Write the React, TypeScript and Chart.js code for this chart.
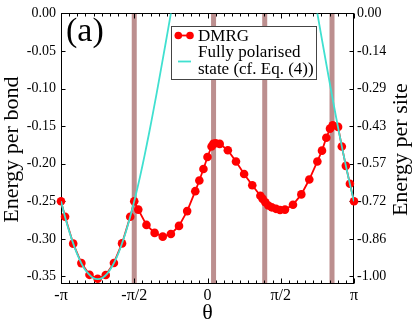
import React, { useEffect, useRef } from 'react';
import { Chart, registerables } from 'chart.js';

Chart.register(...registerables);

const PI = Math.PI;

// DMRG results: theta (rad) and energy per bond
const dmrgTheta = [
  -3.1416, -3.054, -2.880, -2.705, -2.531, -2.356, -2.182, -2.007, -1.833, -1.658,
  -1.571, -1.484, -1.309, -1.134, -0.960, -0.785, -0.611, -0.436, -0.262, -0.175,
  -0.087, 0.0, 0.087, 0.125, 0.175, 0.262, 0.436, 0.611, 0.785, 0.960,
  1.134, 1.183, 1.240, 1.304, 1.377, 1.469, 1.555, 1.662, 1.833, 2.012,
  2.183, 2.356, 2.455, 2.548, 2.627, 2.685, 2.800, 2.880, 2.967, 3.054, 3.1416,
];
const dmrgEnergy = [
  -0.250, -0.2706, -0.3063, -0.3322, -0.3478, -0.3530, -0.3480, -0.3320, -0.3060, -0.2706,
  -0.250, -0.2610, -0.2814, -0.2920, -0.2970, -0.2934, -0.2827, -0.2630, -0.2365, -0.2223,
  -0.2070, -0.1910, -0.1770, -0.1736, -0.1727, -0.1736, -0.1820, -0.1970, -0.2137, -0.2287,
  -0.2426, -0.2468, -0.2512, -0.2555, -0.2580, -0.2600, -0.2616, -0.2610, -0.2546, -0.2408,
  -0.2210, -0.1970, -0.1826, -0.1654, -0.1533, -0.1490, -0.1510, -0.1770, -0.2028, -0.2266, -0.250,
];

// Fully polarised state curve (two visible pieces)
const fpThetaLeft = [
  -3.1416, -3.05, -2.95, -2.85, -2.75, -2.65, -2.55, -2.45, -2.356, -2.25,
  -2.15, -2.05, -1.95, -1.85, -1.75, -1.65, -1.55, -1.45, -1.35, -1.25,
  -1.15, -1.05, -0.95, -0.85, -0.75,
];
const fpEnergyLeft = [
  -0.250, -0.2718, -0.2930, -0.3112, -0.3265, -0.3386, -0.3465, -0.3520, -0.3536, -0.3516,
  -0.3461, -0.3371, -0.3250, -0.3092, -0.2906, -0.2690, -0.2447, -0.2181, -0.1892, -0.1584,
  -0.1261, -0.0925, -0.0579, -0.0228, 0.0125,
];
const fpThetaRight = [2.30, 2.40, 2.50, 2.60, 2.70, 2.80, 2.90, 3.00, 3.07, 3.1416];
const fpEnergyRight = [0.0199, -0.0155, -0.0507, -0.0853, -0.1192, -0.1518, -0.1829, -0.2122, -0.2315, -0.250];

// Vertical bands (theta positions)
const bandTheta = [-1.571, 0.13, 1.227, 2.67];

// Axes
const xMin = -PI;
const xMax = PI;
const xTickValues = [-PI, -PI / 2, 0, PI / 2, PI];
const xTickLabels = ['-π', '-π/2', '0', 'π/2', 'π'];
const yMin = -0.36;
const yMax = 0;
const yTickValues = [0, -0.05, -0.1, -0.15, -0.2, -0.25, -0.3, -0.35];
const yLeftLabels = ['0.00', '-0.05', '-0.10', '-0.15', '-0.20', '-0.25', '-0.30', '-0.35'];
const yRightLabels = ['0.00', '-0.14', '-0.29', '-0.43', '-0.57', '-0.72', '-0.86', '-1.00'];

const xTitle = 'θ';
const yLeftTitle = 'Energy per bond';
const yRightTitle = 'Energy per site';
const panelLabel = '(a)';
const legendLabels = ['DMRG', 'Fully polarised', 'state (cf. Eq. (4))'];

const SERIF = "'Liberation Serif', 'DejaVu Serif', serif";
const RED = '#ff0000';
const CYAN = '#40e0d0';
const BAND = '#bc8f8f';

const decorPlugin = {
  id: 'decor',
  beforeDatasetsDraw(chart: any) {
    const { ctx, chartArea } = chart;
    const xs = chart.scales.x;
    const { left, right, top, bottom } = chartArea;
    ctx.save();
    ctx.fillStyle = BAND;
    bandTheta.forEach((t) => {
      const px = xs.getPixelForValue(t);
      ctx.fillRect(px - 2.5, top, 5, bottom - top);
    });
    // frame
    ctx.strokeStyle = '#000';
    ctx.lineWidth = 1;
    const L = Math.round(left) + 0.5;
    const R = Math.round(right) - 0.5;
    const T = Math.round(top) + 0.5;
    const B = Math.round(bottom) - 0.5;
    ctx.strokeRect(L, T, R - L, B - T);
    // x ticks (inward, bottom and top)
    ctx.beginPath();
    for (let k = 0; k <= 36; k++) {
      const v = -PI + (k * PI) / 18;
      const px = Math.round(xs.getPixelForValue(v)) + 0.5;
      const len = k % 9 === 0 ? 5 : 3;
      ctx.moveTo(px, B);
      ctx.lineTo(px, B - len);
      ctx.moveTo(px, T);
      ctx.lineTo(px, T + len);
    }
    // y ticks
    const ys = chart.scales.y;
    yTickValues.forEach((v) => {
      const py = Math.round(ys.getPixelForValue(v)) + 0.5;
      ctx.moveTo(L, py);
      ctx.lineTo(L + 4, py);
      ctx.moveTo(R, py);
      ctx.lineTo(R - 4, py);
    });
    ctx.stroke();
    ctx.restore();
  },
  afterDatasetsDraw(chart: any) {
    const { ctx, chartArea } = chart;
    const { left, right, top, bottom } = chartArea;
    ctx.save();
    // legend
    const bx = 171, by = 26, bw = 146, bh = 54;
    ctx.fillStyle = '#fff';
    ctx.fillRect(bx, by, bw, bh);
    ctx.strokeStyle = '#444';
    ctx.lineWidth = 1;
    ctx.strokeRect(bx + 0.5, by + 0.5, bw - 1, bh - 1);
    // DMRG sample
    ctx.strokeStyle = RED;
    ctx.lineWidth = 1.8;
    ctx.beginPath();
    ctx.moveTo(178, 35.5);
    ctx.lineTo(190, 35.5);
    ctx.stroke();
    ctx.fillStyle = RED;
    [178.3, 190].forEach((cx) => {
      ctx.beginPath();
      ctx.arc(cx, 35.5, 3.8, 0, 2 * PI);
      ctx.fill();
    });
    // fully polarised sample
    ctx.strokeStyle = CYAN;
    ctx.lineWidth = 1.8;
    ctx.beginPath();
    ctx.moveTo(178, 61.5);
    ctx.lineTo(191, 61.5);
    ctx.stroke();
    ctx.fillStyle = '#000';
    ctx.font = `17px ${SERIF}`;
    ctx.textAlign = 'left';
    ctx.textBaseline = 'alphabetic';
    ctx.fillText(legendLabels[0], 198, 41);
    ctx.fillText(legendLabels[1], 198, 57);
    ctx.fillText(legendLabels[2], 198, 73.5);
    // panel label
    ctx.font = `34px ${SERIF}`;
    ctx.fillText(panelLabel, 66, 41);
    // axis titles
    ctx.font = `22px ${SERIF}`;
    ctx.textAlign = 'center';
    ctx.fillText(xTitle, (left + right) / 2, 319);
    const cy = (top + bottom) / 2 + 1;
    ctx.save();
    ctx.translate(18, cy);
    ctx.rotate(-PI / 2);
    ctx.fillText(yLeftTitle, 0, 0);
    ctx.restore();
    ctx.save();
    ctx.translate(407, cy);
    ctx.rotate(-PI / 2);
    ctx.fillText(yRightTitle, 0, 0);
    ctx.restore();
    ctx.restore();
  },
};

export default function App() {
  const canvasRef = useRef<HTMLCanvasElement | null>(null);

  useEffect(() => {
    const canvas = canvasRef.current;
    if (!canvas) return;
    const toPts = (xs: number[], ys: number[]) => xs.map((x, i) => ({ x, y: ys[i] }));
    const chart = new Chart(canvas, {
      type: 'scatter',
      data: {
        datasets: [
          {
            label: 'fpL',
            data: toPts(fpThetaLeft, fpEnergyLeft),
            showLine: true,
            borderColor: CYAN,
            borderWidth: 1.8,
            pointRadius: 0,
            tension: 0.3,
            order: 0,
          },
          {
            label: 'fpR',
            data: toPts(fpThetaRight, fpEnergyRight),
            showLine: true,
            borderColor: CYAN,
            borderWidth: 1.8,
            pointRadius: 0,
            tension: 0.3,
            order: 0,
          },
          {
            label: 'DMRG',
            data: toPts(dmrgTheta, dmrgEnergy),
            showLine: true,
            borderColor: RED,
            backgroundColor: RED,
            borderWidth: 1.8,
            pointRadius: 4.3,
            pointBorderWidth: 0,
            tension: 0,
            clip: false,
            order: 1,
          },
        ],
      } as any,
      options: {
        responsive: false,
        animation: false,
        events: [],
        layout: { padding: { top: 6, left: 0, right: 0, bottom: 0 } },
        plugins: { legend: { display: false }, tooltip: { enabled: false } },
        scales: {
          x: {
            type: 'linear',
            position: 'bottom',
            min: xMin,
            max: xMax,
            grid: { display: false, drawTicks: false },
            border: { display: false },
            afterBuildTicks: (s: any) => {
              s.ticks = xTickValues.map((v) => ({ value: v }));
            },
            afterFit: (s: any) => {
              s.height = 37;
            },
            ticks: {
              autoSkip: false,
              maxRotation: 0,
              padding: 2,
              color: '#000',
              font: { family: SERIF, size: 16 },
              callback: (_v: any, i: number) => xTickLabels[i],
            },
          },
          y: {
            type: 'linear',
            position: 'left',
            min: yMin,
            max: yMax,
            grid: { display: false, drawTicks: false },
            border: { display: false },
            afterBuildTicks: (s: any) => {
              s.ticks = yTickValues.map((v) => ({ value: v }));
            },
            afterFit: (s: any) => {
              s.width = 61;
            },
            ticks: {
              autoSkip: false,
              padding: 5,
              color: '#000',
              font: { family: SERIF, size: 14 },
              callback: (_v: any, i: number) => yLeftLabels[i],
            },
          },
          y2: {
            type: 'linear',
            position: 'right',
            min: yMin,
            max: yMax,
            grid: { display: false, drawTicks: false },
            border: { display: false },
            afterBuildTicks: (s: any) => {
              s.ticks = yTickValues.map((v) => ({ value: v }));
            },
            afterFit: (s: any) => {
              s.width = 61;
            },
            ticks: {
              autoSkip: false,
              padding: 3,
              color: '#000',
              font: { family: SERIF, size: 14 },
              callback: (_v: any, i: number) => yRightLabels[i],
            },
          },
        },
      } as any,
      plugins: [decorPlugin],
    });
    return () => chart.destroy();
  }, []);

  return (
    <div style={{ position: 'fixed', left: 0, top: 0, width: 415, height: 321, background: '#fff' }}>
      <canvas ref={canvasRef} width={415} height={321} style={{ display: 'block' }} />
    </div>
  );
}
